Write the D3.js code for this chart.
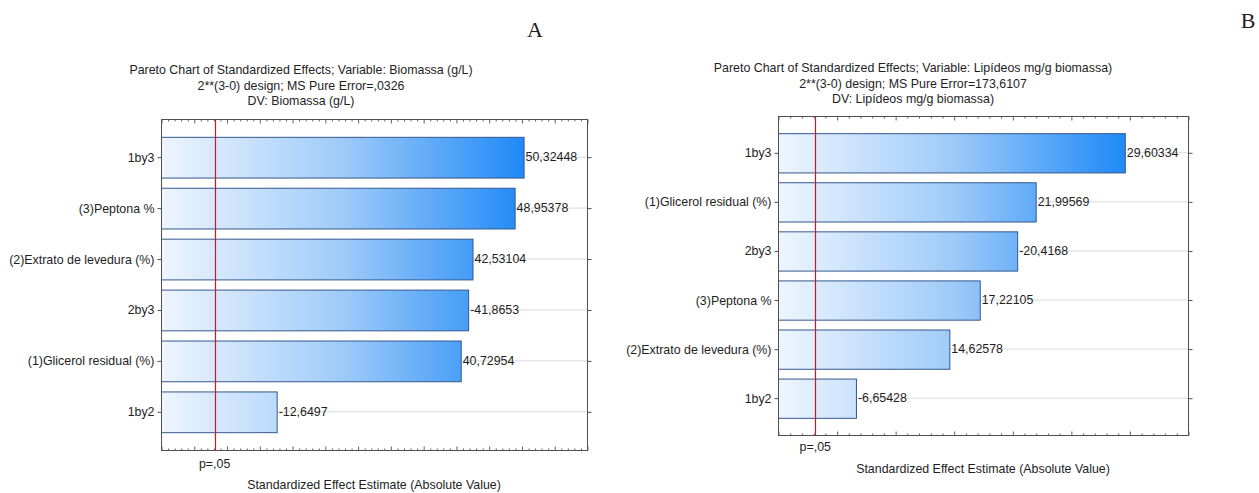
<!DOCTYPE html>
<html>
<head>
<meta charset="utf-8">
<script src="https://cdn.jsdelivr.net/npm/d3@7"></script>
<style>
  html, body { margin: 0; padding: 0; background: #ffffff; }
  svg { display: block; }
  text { font-family: "Liberation Sans", Arial, sans-serif; fill: #1e1e1e; }
</style>
</head>
<body>
<svg id="chart" width="1259" height="493"></svg>
<script>
// Pareto chart A: biomass response
const termsA = ["1by3", "(3)Peptona %", "(2)Extrato de levedura (%)", "2by3", "(1)Glicerol residual (%)", "1by2"];
const effectsA = [50.32448, 48.95378, 42.53104, -41.8653, 40.72954, -12.6497];
const titleA = [
  "Pareto Chart of Standardized Effects; Variable: Biomassa (g/L)",
  "2**(3-0) design; MS Pure Error=,0326",
  "DV: Biomassa (g/L)"
];
const domainA = [-5, 60];

// Pareto chart B: lipid response
const termsB = ["1by3", "(1)Glicerol residual (%)", "2by3", "(3)Peptona %", "(2)Extrato de levedura (%)", "1by2"];
const effectsB = [29.60334, 21.99569, -20.4168, 17.22105, 14.62578, -6.65428];
const titleB = [
  "Pareto Chart of Standardized Effects; Variable: Lipídeos mg/g biomassa)",
  "2**(3-0) design; MS Pure Error=173,6107",
  "DV: Lipídeos mg/g biomassa)"
];
const domainB = [0, 35];

// critical t value (p = .05)
const tCrit = 3.182;
const pLabel = "p=,05";
const xAxisTitle = "Standardized Effect Estimate (Absolute Value)";

const FONT = 12.4;
const svg = d3.select("#chart");
const defs = svg.append("defs");

function drawPareto(opts) {
  const { id, terms, effects, titles, domain, frame, titleX, titleY, pLabelY, axisTitle } = opts;
  const g = svg.append("g").attr("id", id);

  const x = d3.scaleLinear().domain(domain).range([frame.left, frame.right]);
  const y = d3.scaleBand().domain(terms).range([frame.top, frame.bottom])
    .paddingInner(0.2).paddingOuter(0.35);

  const maxAbs = d3.max(effects, d => Math.abs(d));

  // horizontal gradient shared by all bars, in plot coordinates
  const grad = defs.append("linearGradient")
    .attr("id", id + "-grad")
    .attr("gradientUnits", "userSpaceOnUse")
    .attr("x1", frame.left).attr("x2", x(maxAbs))
    .attr("y1", 0).attr("y2", 0);
  grad.append("stop").attr("offset", "0%").attr("stop-color", "#eef5fe");
  grad.append("stop").attr("offset", "50%").attr("stop-color", "#9fcbf9");
  grad.append("stop").attr("offset", "100%").attr("stop-color", "#1f89f7");

  // titles
  g.selectAll("text.title").data(titles).join("text")
    .attr("class", "title")
    .attr("x", titleX)
    .attr("y", (d, i) => titleY[i])
    .attr("text-anchor", "middle")
    .attr("dominant-baseline", "middle")
    .attr("font-size", FONT)
    .text(d => d);

  // grid lines at each term
  g.selectAll("line.grid").data(terms).join("line")
    .attr("class", "grid")
    .attr("x1", frame.left).attr("x2", frame.right)
    .attr("y1", d => y(d) + y.bandwidth() / 2)
    .attr("y2", d => y(d) + y.bandwidth() / 2)
    .attr("stroke", "#d9d9d9").attr("stroke-width", 1);

  // bars
  const data = terms.map((t, i) => ({ term: t, value: effects[i] }));
  g.selectAll("rect.bar").data(data).join("rect")
    .attr("class", "bar")
    .attr("x", frame.left + 0.5)
    .attr("y", d => y(d.term) + 0.5)
    .attr("width", d => x(Math.abs(d.value)) - frame.left)
    .attr("height", y.bandwidth())
    .attr("fill", `url(#${id}-grad)`)
    .attr("stroke", "#34588c")
    .attr("stroke-width", 1);

  // value labels
  g.selectAll("text.val").data(data).join("text")
    .attr("class", "val")
    .attr("x", d => x(Math.abs(d.value)) + 2)
    .attr("y", d => y(d.term) + y.bandwidth() / 2 + 0.5)
    .attr("dominant-baseline", "middle")
    .attr("font-size", FONT)
    .text(d => String(d.value).replace(".", ","));

  // frame
  g.append("rect")
    .attr("x", frame.left + 0.5).attr("y", frame.top + 0.5)
    .attr("width", frame.right - frame.left).attr("height", frame.bottom - frame.top)
    .attr("fill", "none").attr("stroke", "#505050").attr("stroke-width", 1);

  // x ticks (inward) on bottom and top edges, no labels
  const major = d3.range(Math.ceil(domain[0] / 5) * 5, domain[1] + 0.001, 5);
  const minor = d3.range(domain[0], domain[1] + 0.001, 1).filter(v => v % 5 !== 0);
  const bottomAxis = d3.axisBottom(x).tickValues(major).tickSize(-4).tickFormat("");
  const bottomMinor = d3.axisBottom(x).tickValues(minor).tickSize(-2).tickFormat("");
  const topAxis = d3.axisTop(x).tickValues(major).tickSize(-4).tickFormat("");
  const topMinor = d3.axisTop(x).tickValues(minor).tickSize(-2).tickFormat("");
  [[bottomAxis, frame.bottom + 0.5], [bottomMinor, frame.bottom + 0.5],
   [topAxis, frame.top + 0.5], [topMinor, frame.top + 0.5]].forEach(([ax, ty]) => {
    const a = g.append("g").attr("transform", `translate(0.5,${ty})`).call(ax);
    a.select(".domain").remove();
    a.selectAll("line").attr("stroke", "#606060");
  });

  // y axis: term labels with outward ticks on left, ticks on right
  const leftAxis = d3.axisLeft(y).tickSize(4).tickPadding(3);
  const la = g.append("g").attr("transform", `translate(${frame.left + 0.5},0.5)`).call(leftAxis);
  la.select(".domain").remove();
  la.selectAll("line").attr("stroke", "#505050");
  la.selectAll("text").attr("font-size", FONT)
    .attr("font-family", "Liberation Sans, Arial, sans-serif").attr("fill", "#1e1e1e");

  const rightAxis = d3.axisRight(y).tickSize(4).tickFormat("");
  const ra = g.append("g").attr("transform", `translate(${frame.right + 0.5},0.5)`).call(rightAxis);
  ra.select(".domain").remove();
  ra.selectAll("line").attr("stroke", "#505050");

  // significance line (p = .05)
  const xc = Math.round(x(tCrit)) + 0.5;
  g.append("line")
    .attr("x1", xc).attr("x2", xc)
    .attr("y1", frame.top + 1).attr("y2", frame.bottom)
    .attr("stroke", "#d4141e").attr("stroke-width", 1.2);

  // significance label and axis title
  g.append("text")
    .attr("x", x(tCrit))
    .attr("y", pLabelY)
    .attr("text-anchor", "middle")
    .attr("dominant-baseline", "middle")
    .attr("font-size", FONT)
    .text(pLabel);

  g.append("text")
    .attr("x", (frame.left + frame.right) / 2)
    .attr("y", axisTitle)
    .attr("text-anchor", "middle")
    .attr("dominant-baseline", "middle")
    .attr("font-size", FONT)
    .text(xAxisTitle);
}

drawPareto({
  id: "paretoA", terms: termsA, effects: effectsA, titles: titleA, domain: domainA,
  frame: { left: 161, right: 587, top: 119, bottom: 450 },
  titleX: 301, titleY: [71, 86.5, 101.5], pLabelY: 465, axisTitle: 486
});

drawPareto({
  id: "paretoB", terms: termsB, effects: effectsB, titles: titleB, domain: domainB,
  frame: { left: 778, right: 1188, top: 116, bottom: 435 },
  titleX: 913, titleY: [68.5, 84.5, 100], pLabelY: 448, axisTitle: 470
});

// panel letters
svg.append("text").attr("x", 535).attr("y", 37)
  .attr("text-anchor", "middle")
  .style("font-family", "'Liberation Serif', 'Times New Roman', serif")
  .attr("font-size", 22).text("A");
svg.append("text").attr("x", 1248).attr("y", 28)
  .attr("text-anchor", "middle")
  .style("font-family", "'Liberation Serif', 'Times New Roman', serif")
  .attr("font-size", 22).text("B");
</script>
</body>
</html>
